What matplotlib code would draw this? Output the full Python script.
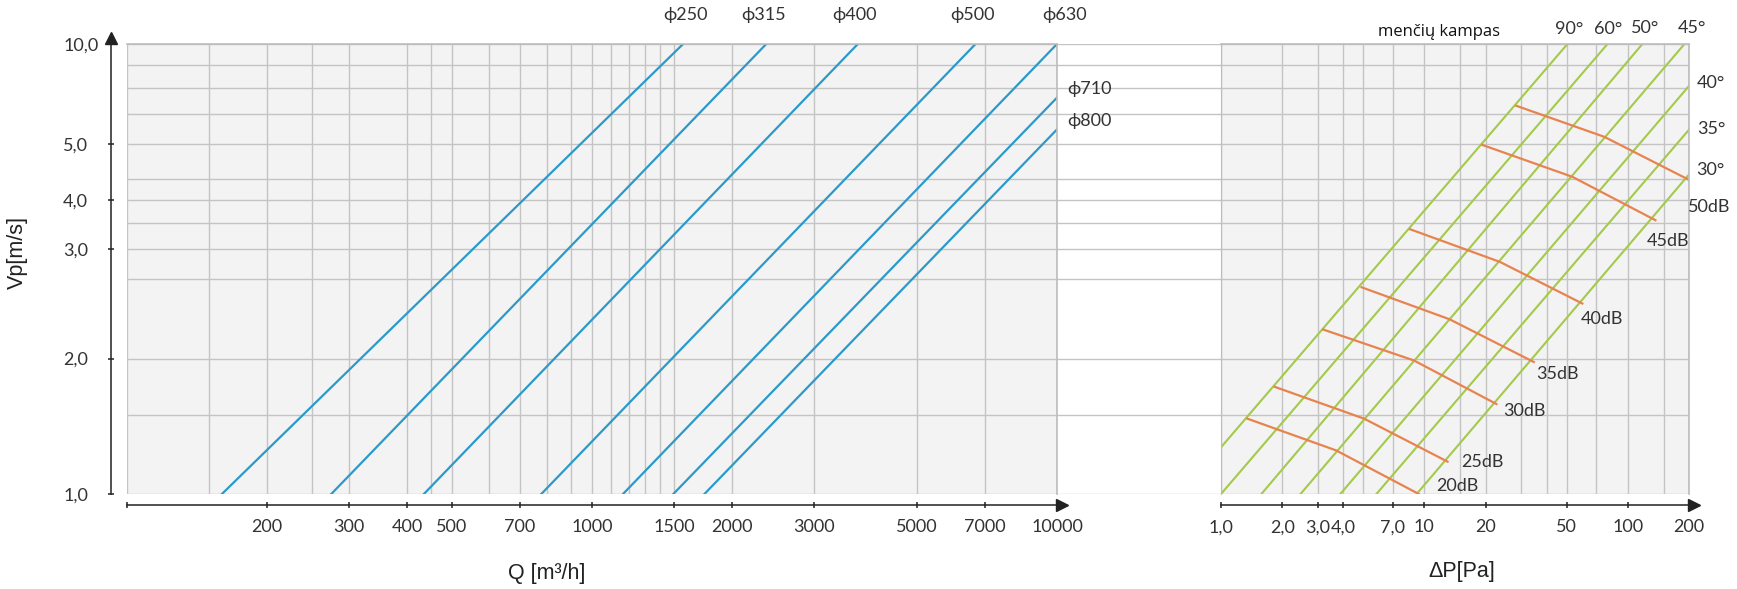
import matplotlib.pyplot as plt
from matplotlib.ticker import FixedLocator, NullFormatter
from matplotlib.transforms import ScaledTranslation

plt.rcParams['font.family'] = ['Lato', 'DejaVu Sans']

# ---- axes scales (values) ----
q_ticks = [100, 200, 300, 400, 500, 700, 1000, 1500, 2000, 3000, 5000, 7000, 10000]
q_ticklabels = ["", "200", "300", "400", "500", "700", "1000", "1500", "2000",
                "3000", "5000", "7000", "10000"]
q_grid = [150, 250, 450, 600, 800, 900, 1100, 1200, 1300, 1400]

v_ticks = [1, 2, 3.5, 4.5, 6, 10]
v_ticklabels = ["1,0", "2,0", "3,0", "4,0", "5,0", "10,0"]
v_grid = [1.5, 3, 4, 5, 7, 8, 9]

dp_ticks = [1, 2, 3, 4, 7, 10, 20, 50, 100, 200]
dp_ticklabels = ["1,0", "2,0", "3,0", "4,0", "7,0", "10", "20", "50", "100", "200"]
dp_grid = [5, 15, 30, 40, 70, 150]

# ---- duct diameter lines: Q [m3/h] vs Vp [m/s] ----
diam_labels = ["ϕ250", "ϕ315", "ϕ400", "ϕ500", "ϕ630", "ϕ710", "ϕ800"]
diam_q = [[160, 1570], [275, 2370], [435, 3730], [778, 6680],
          [1166, 10000], [1496, 10000], [1745, 10000]]
diam_v = [[1, 10], [1, 10], [1, 10], [1, 10], [1, 10], [1, 7.6], [1, 6.46]]

# ---- blade angle lines: dP [Pa] vs Vp ----
angle_labels = ["90°", "60°", "50°", "45°", "40°", "35°", "30°"]
angle_dp = [[1, 50.5], [1, 79.5], [1.58, 118], [2.46, 190],
            [3.86, 200], [5.81, 200], [9.16, 200]]
angle_v = [[1.27, 10], [1, 10], [1, 10], [1, 10], [1, 8.07], [1, 6.45], [1, 5.13]]

# ---- noise level curves ----
db_labels = ["20dB", "25dB", "30dB", "35dB", "40dB", "45dB", "50dB"]
db_dp = [[1.35, 3.68, 9.39], [1.84, 5.06, 13.0], [3.18, 8.89, 22.6],
         [4.91, 13.3, 34.5], [8.51, 23.5, 59.8], [19.2, 53.3, 136.7],
         [28.3, 76.6, 200]]
db_v = [[1.47, 1.25, 1.0], [1.73, 1.47, 1.18], [2.32, 1.98, 1.585],
        [2.88, 2.445, 1.965], [3.875, 3.28, 2.65], [5.97, 5.07, 4.06],
        [7.29, 6.22, 4.99]]

W, H = 1737, 589
PT = 0.72  # px -> pt at 100 dpi
BLUE = '#2b9acb'
GREEN = '#a4c94b'
ORANGE = '#e8834f'
GRID = '#c4c4c4'
FRAME = '#bcbcbc'
INK = '#222222'
TXT = '#333333'

fig = plt.figure(figsize=(W / 100, H / 100), dpi=100)


def box(x0, x1):
    return [x0 / W, 1 - 494 / H, (x1 - x0) / W, 450 / H]


axG = fig.add_axes(box(1057, 1221))
axL = fig.add_axes(box(127, 1057))
axR = fig.add_axes(box(1221, 1689))
axG.set_zorder(1)
axL.set_zorder(2)
axR.set_zorder(2)

for ax, face in [(axL, '#f3f3f3'), (axG, 'white'), (axR, '#f3f3f3')]:
    ax.set_facecolor(face)
    ax.set_axisbelow(True)
    ax.set_yscale('log')
    ax.set_ylim(1, 10)
    ax.set_yticks(v_ticks, v_ticklabels)
    ax.yaxis.set_minor_locator(FixedLocator(v_grid))
    ax.yaxis.set_minor_formatter(NullFormatter())
    ax.grid(True, which='both', axis='y', color=GRID, lw=1.0)

# gap between the two panels: only horizontal grid
axG.xaxis.set_visible(False)
axG.tick_params(axis='y', which='both', left=False, labelleft=False)
for s in axG.spines.values():
    s.set_visible(False)

for ax, lim, ticks, labels, grid in [(axL, (100, 10000), q_ticks, q_ticklabels, q_grid),
                                     (axR, (1, 200), dp_ticks, dp_ticklabels, dp_grid)]:
    ax.set_xscale('log')
    ax.set_xlim(*lim)
    ax.set_xticks(ticks, labels)
    ax.xaxis.set_minor_locator(FixedLocator(grid))
    ax.xaxis.set_minor_formatter(NullFormatter())
    ax.grid(True, which='both', axis='x', color=GRID, lw=1.0)
    ax.tick_params(axis='x', which='major', direction='inout', length=5, width=1.1,
                   color=INK, pad=7.8, labelsize=13, labelcolor=TXT)
    ax.tick_params(axis='x', which='minor', length=0)
    ax.spines['bottom'].set_position(('outward', 7.9))
    ax.spines['bottom'].set_color(INK)
    ax.spines['bottom'].set_linewidth(1.1)
    for side in ['top', 'right']:
        ax.spines[side].set_color(FRAME)
        ax.spines[side].set_linewidth(1.2)
    # arrow at the end of the x axis
    tr = ax.transAxes + ScaledTranslation(5 / 100, -11 / 100, fig.dpi_scale_trans)
    ax.plot([1], [0], marker='>', ms=8, color=INK, transform=tr, clip_on=False)

axL.spines['left'].set_position(('outward', 11.7))
axL.spines['left'].set_color(INK)
axL.spines['left'].set_linewidth(1.1)
axL.tick_params(axis='y', which='major', direction='inout', length=5, width=1.1,
                color=INK, pad=31.8, labelsize=13, labelcolor=TXT)
axL.tick_params(axis='y', which='minor', length=0)
for t in axL.yaxis.get_major_ticks():
    t.label1.set_horizontalalignment('left')
tr = axL.transAxes + ScaledTranslation(-16.3 / 100, 6 / 100, fig.dpi_scale_trans)
axL.plot([0], [1], marker='^', ms=8, color=INK, transform=tr, clip_on=False)

axR.spines['left'].set_color(FRAME)
axR.tick_params(axis='y', which='both', left=False, labelleft=False)

# ---- left panel: diameter lines ----
diam_off = [(2, 29), (-3, 29), (-3, 29), (-3, 29), (8, 29), (10, 8.5), (10, 8.5)]
for lbl, q, v, (dx, dy) in zip(diam_labels, diam_q, diam_v, diam_off):
    axL.plot(q, v, color=BLUE, lw=1.6)
    axL.annotate(lbl, xy=(q[1], v[1]), xytext=(dx * PT, dy * PT),
                 textcoords='offset points', ha='left' if dx == 10 else 'center',
                 va='center', fontsize=13, color=TXT, annotation_clip=False)

# ---- right panel: blade angles and noise ----
angle_off = [(2, 15), (1, 15), (3, 16), (7, 16), (8, 2.5), (8, 1), (7, 4)]
for lbl, p, v, (dx, dy) in zip(angle_labels, angle_dp, angle_v, angle_off):
    axR.plot(p, v, color=GREEN, lw=1.5)
    axR.annotate(lbl, xy=(p[1], v[1]), xytext=(dx * PT, dy * PT),
                 textcoords='offset points', ha='center' if dy > 10 else 'left',
                 va='center', fontsize=13, color=TXT, annotation_clip=False)

db_off = [(39, 8), (35, 0), (28, -7), (24, -12), (20, -15), (13, -21), (20, -27)]
for lbl, p, v, (dx, dy) in zip(db_labels, db_dp, db_v, db_off):
    axR.plot(p, v, color=ORANGE, lw=1.6)
    axR.annotate(lbl, xy=(p[-1], v[-1]), xytext=(dx * PT, dy * PT),
                 textcoords='offset points', ha='center', va='center',
                 fontsize=13, color=TXT, annotation_clip=False)

fig.text(1439 / W, 1 - 32 / H, "menčių kampas", family=['Open Sans', 'DejaVu Sans'],
         fontsize=12, ha='center', va='center', color='#111111')

# axis titles
fig.text(17 / W, 1 - 253 / H, "Vp[m/s]", family='Liberation Sans', fontsize=15.5,
         rotation=90, ha='center', va='center', color=INK)
fig.text(547 / W, 1 - 574 / H, "Q [m³/h]", family='Liberation Sans', fontsize=15.5,
         ha='center', va='center', color=INK)
fig.text(1462 / W, 1 - 571 / H, "ΔP[Pa]", family='Liberation Sans', fontsize=15.5,
         ha='center', va='center', color=INK)

fig.savefig('out.png', dpi=100)
